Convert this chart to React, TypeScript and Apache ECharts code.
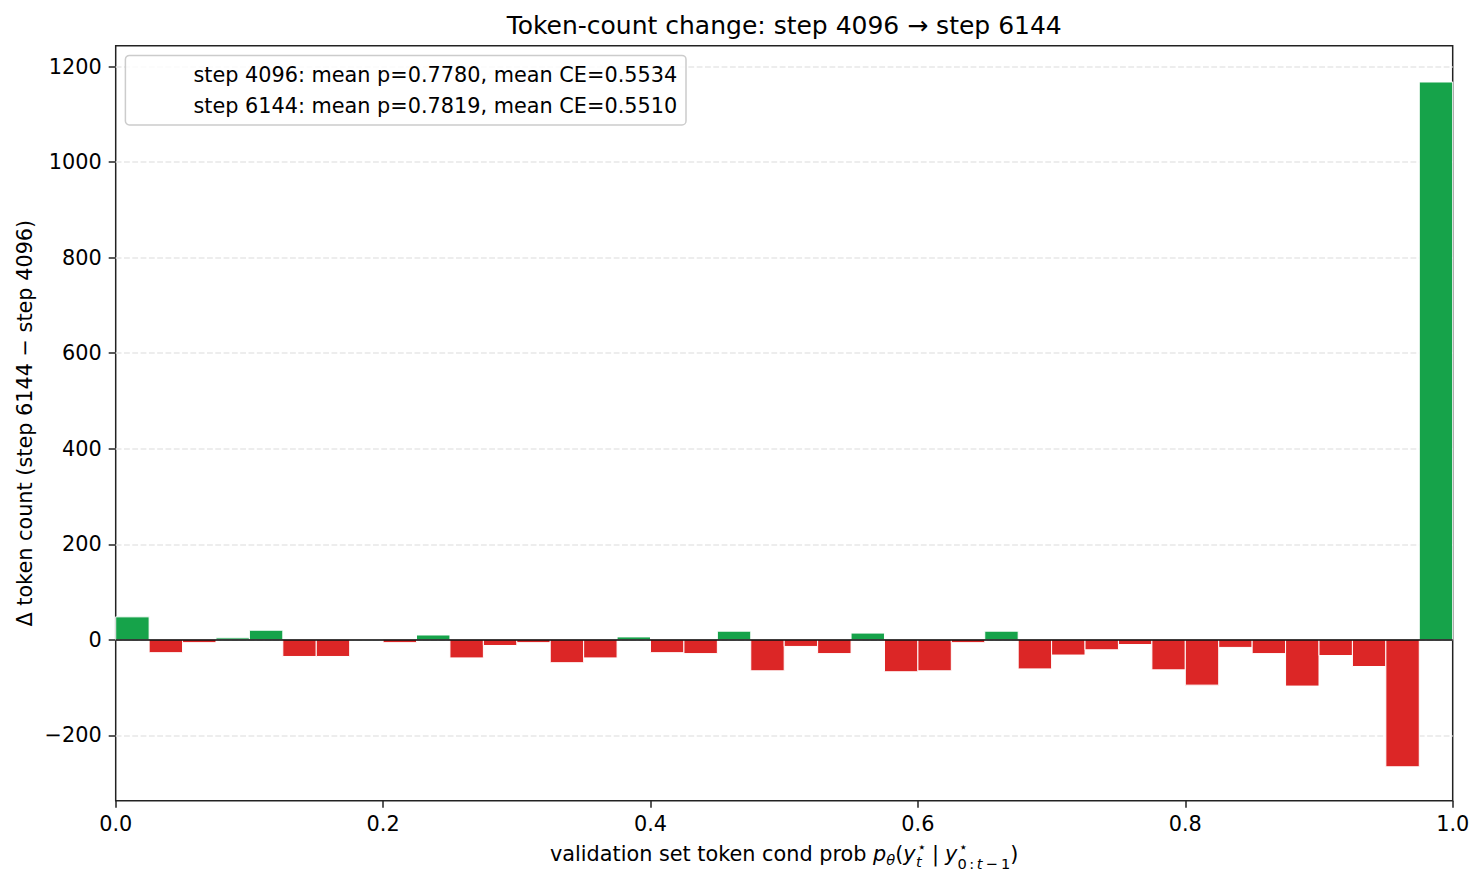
import React, { useEffect, useRef } from "react";
import * as echarts from "echarts";

// ---- data ----
const binWidth = 0.025;
const binStarts = [
  0.0, 0.025, 0.05, 0.075, 0.1, 0.125, 0.15, 0.175, 0.2, 0.225,
  0.25, 0.275, 0.3, 0.325, 0.35, 0.375, 0.4, 0.425, 0.45, 0.475,
  0.5, 0.525, 0.55, 0.575, 0.6, 0.625, 0.65, 0.675, 0.7, 0.725,
  0.75, 0.775, 0.8, 0.825, 0.85, 0.875, 0.9, 0.925, 0.95, 0.975,
];
const deltaCounts = [
  48, -27, -6, 4, 20, -35, -35, 0, -6, 10,
  -38, -12, -6, -48, -38, 6, -27, -29, 18, -65,
  -14, -29, 14, -67, -65, -6, 18, -61, -32, -21,
  -10, -63, -95, -16, -29, -97, -33, -56, -266, 1168,
];
const yTicks = [-200, 0, 200, 400, 600, 800, 1000, 1200];
const xTickInterval = 0.2;
const legendLabels = [
  "step 4096: mean p=0.7780, mean CE=0.5534",
  "step 6144: mean p=0.7819, mean CE=0.5510",
];
const titleText = "Token-count change: step 4096 \u2192 step 6144";
const yAxisTitle = "\u0394 token count (step 6144 \u2212 step 4096)";

const GREEN = "#16a34a";
const RED = "#dc2626";
const FONT = "DejaVu Sans";
const F = 20.8;
const S = 14.6;
const TITLE_F = 25;

const GRID = { left: 115.7, right: 31.3, top: 45.7, bottom: 84.3 };

function buildXLabel(): any[] {
  const ctx = document.createElement("canvas").getContext("2d")!;
  const measure = (t: string, size: number, italic: boolean) => {
    ctx.font = `${italic ? "italic " : ""}${size}px "${FONT}"`;
    return ctx.measureText(t).width;
  };
  const items: { text: string; x: number; size: number; italic: boolean; dy: number }[] = [];
  let cx = 0;
  const put = (text: string, size: number, italic: boolean, dy: number, advance = true) => {
    const w = measure(text, size, italic);
    items.push({ text, x: cx, size, italic, dy });
    if (advance) cx += w;
    return w;
  };
  const SUP = -9.5;
  const SUB = 6;
  const SUB2 = 7.5;
  put("validation set token cond prob ", F, false, 0);
  put("p", F, true, 0);
  put("\u03b8", S, true, 4);
  put("(", F, false, 0);
  put("y", F, true, 0);
  {
    const x0 = cx;
    cx = x0 + 1.5;
    const wSup = put("\u22c6", S, false, SUP, false);
    cx = x0 + 0.3;
    const wSub = put("t", S, true, SUB, false);
    cx = x0 + Math.max(1.5 + wSup, 0.3 + wSub);
  }
  cx += 5.8;
  put("|", F, false, 0);
  cx += 5.8;
  put("y", F, true, 0);
  {
    const x0 = cx;
    cx = x0 + 1.5;
    const wSup = put("\u22c6", S, false, SUP, false);
    const supEnd = x0 + 1.5 + wSup;
    cx = x0 + 0.3;
    put("0", S, false, SUB2);
    cx += 2.5;
    put(":", S, false, SUB2);
    cx += 2.5;
    put("t", S, true, SUB2);
    cx += 3.2;
    put("\u2212", S, false, SUB2);
    cx += 3.2;
    put("1", S, false, SUB2);
    cx = Math.max(cx, supEnd);
  }
  put(")", F, false, 0);
  const total = cx;
  const plotCenter = GRID.left + (1484 - GRID.left - GRID.right) / 2;
  const startX = plotCenter - total / 2;
  const baseline = 861;
  return items.map((it) => ({
    type: "text",
    z: 100,
    silent: true,
    style: {
      text: it.text,
      x: startX + it.x,
      y: baseline + it.dy - 0.346 * it.size,
      fill: "#000",
      fontSize: it.size,
      lineHeight: it.size,
      fontFamily: FONT,
      fontStyle: it.italic ? "italic" : "normal",
      align: "left",
      verticalAlign: "middle",
    },
  }));
}

export default function App() {
  const ref = useRef<HTMLDivElement>(null);
  useEffect(() => {
    document.body.style.margin = "0";
    if (!ref.current) return;
    const chart = echarts.init(ref.current, undefined, { renderer: "svg" });
    const plotCenterX = GRID.left + (1484 - GRID.left - GRID.right) / 2;
    const plotCenterY = GRID.top + (885 - GRID.top - GRID.bottom) / 2;
    const barData = binStarts.map((s, i) => [s, s + binWidth, deltaCounts[i]]);
    const axisColor = "#222";
    const option: any = {
      animation: false,
      backgroundColor: "#fff",
      textStyle: { fontFamily: FONT },
      grid: {
        ...GRID,
        show: true,
        borderColor: axisColor,
        borderWidth: 1.5,
        backgroundColor: "transparent",
        containLabel: false,
      },
      xAxis: {
        type: "value",
        min: 0,
        max: 1,
        interval: xTickInterval,
        axisLine: { show: false, onZero: false },
        axisTick: { show: true, length: 7, lineStyle: { color: axisColor, width: 1.5 } },
        axisLabel: {
          color: "#000",
          fontSize: F,
          fontFamily: FONT,
          margin: 13,
          formatter: (v: number) => v.toFixed(1),
        },
        splitLine: { show: false },
      },
      yAxis: {
        type: "value",
        min: -337,
        max: 1244,
        axisLine: { show: false, onZero: false },
        axisTick: {
          show: true,
          length: 7,
          customValues: yTicks,
          lineStyle: { color: axisColor, width: 1.5 },
        },
        axisLabel: {
          color: "#000",
          fontSize: F,
          fontFamily: FONT,
          margin: 14,
          customValues: yTicks,
          formatter: (v: number) => (v < 0 ? "\u2212" + Math.abs(v) : String(v)),
        },
        splitLine: { show: false },
      },
      series: [
        {
          type: "line",
          data: [],
          z: 1,
          silent: true,
          markLine: {
            z: 1,
            silent: true,
            symbol: ["none", "none"],
            label: { show: false },
            emphasis: { disabled: true },
            lineStyle: { color: "#e7e7e7", width: 1.5, type: [5.8, 2.5] },
            data: yTicks.map((v) => ({ yAxis: v })),
          },
        },
        {
          type: "custom",
          z: 3,
          silent: true,
          encode: { x: [0, 1], y: 2 },
          data: barData,
          renderItem: (params: any, api: any) => {
            const x0 = api.value(0);
            const x1 = api.value(1);
            const v = api.value(2);
            const p0 = api.coord([x0, 0]);
            const p1 = api.coord([x1, v]);
            return {
              type: "rect",
              shape: {
                x: p0[0],
                y: Math.min(p0[1], p1[1]),
                width: p1[0] - p0[0],
                height: Math.abs(p1[1] - p0[1]),
              },
              style: { fill: v >= 0 ? GREEN : RED, stroke: "#fff", lineWidth: 1 },
            };
          },
        },
        {
          type: "line",
          data: [],
          z: 5,
          silent: true,
          markLine: {
            z: 5,
            silent: true,
            symbol: ["none", "none"],
            label: { show: false },
            emphasis: { disabled: true },
            lineStyle: { color: "#000", width: 1.5, type: "solid" },
            data: [{ yAxis: 0 }],
          },
        },
      ],
      graphic: [
        {
          type: "text",
          z: 100,
          silent: true,
          style: {
            text: titleText,
            x: plotCenterX,
            y: 25,
            fill: "#000",
            fontSize: TITLE_F,
            fontFamily: FONT,
            align: "center",
            verticalAlign: "middle",
          },
        },
        {
          type: "text",
          z: 100,
          silent: true,
          x: 25,
          y: plotCenterY,
          rotation: Math.PI / 2,
          style: {
            text: yAxisTitle,
            x: 0,
            y: 0,
            fill: "#000",
            fontSize: F,
            fontFamily: FONT,
            align: "center",
            verticalAlign: "middle",
          },
        },
        {
          type: "rect",
          z: 90,
          silent: true,
          shape: { x: 125.4, y: 55.4, width: 560.6, height: 69.6, r: 4 },
          style: { fill: "rgba(255,255,255,0.8)", stroke: "#cccccc", lineWidth: 1.5 },
        },
        ...legendLabels.map((t, i) => ({
          type: "text",
          z: 100,
          silent: true,
          style: {
            text: t,
            x: 193.4,
            y: 74.5 + i * 31,
            fill: "#000",
            fontSize: F,
            fontFamily: FONT,
            align: "left",
            verticalAlign: "middle",
          },
        })),
        ...buildXLabel(),
      ],
    };
    chart.setOption(option);
    return () => chart.dispose();
  }, []);
  return <div ref={ref} style={{ width: 1484, height: 885 }} />;
}
